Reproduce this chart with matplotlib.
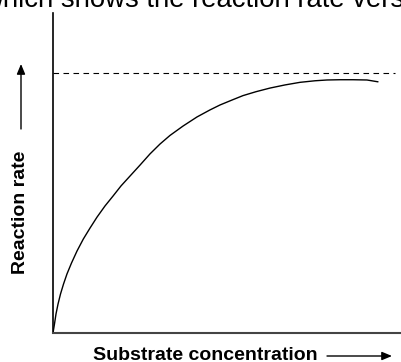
import matplotlib
matplotlib.use("Agg")
import matplotlib.pyplot as plt

plt.rcParams["font.family"] = ["Liberation Sans", "DejaVu Sans"]

# substrate concentration (arbitrary units) and measured reaction rate
substrate = [0.0, 0.043, 0.086, 0.144, 0.216, 0.302, 0.402, 0.532, 0.690, 0.871,
             1.063, 1.264, 1.494, 1.724, 1.954, 2.213, 2.500, 2.787, 3.075, 3.362,
             3.736, 4.138, 4.511, 4.799, 5.144, 5.460, 5.833, 6.236, 6.667, 7.098,
             7.529, 7.874, 8.247, 8.621, 9.023, 9.339]
rate = [0.0, 0.035, 0.073, 0.111, 0.150, 0.188, 0.227, 0.269, 0.315, 0.361,
        0.403, 0.445, 0.488, 0.526, 0.565, 0.603, 0.645, 0.688, 0.726, 0.759,
        0.795, 0.830, 0.857, 0.876, 0.895, 0.912, 0.927, 0.941, 0.953, 0.963,
        0.969, 0.972, 0.973, 0.973, 0.972, 0.965]
vmax = 1.0
vmax_end = 9.83

W, H = 401, 362
fig = plt.figure(figsize=(W / 100, H / 100), dpi=100)

left, bottom, top = 53, 333, 13
ax = fig.add_axes([left / W, (H - bottom) / H, (W - left) / W, (bottom - top) / H])
ax.set_xlim(0, 10)
ax.set_ylim(0, 320 / 260.3)

ax.plot(substrate, rate, color="black", lw=1.0, solid_joinstyle="round",
        solid_capstyle="round")
ax.plot([0, vmax_end], [vmax, vmax], color="black", lw=0.8, dashes=(5, 4))

for side in ("top", "right"):
    ax.spines[side].set_visible(False)
ax.spines["left"].set_color("black")
ax.spines["left"].set_linewidth(1.2)
ax.spines["bottom"].set_color("#444444")
ax.spines["bottom"].set_linewidth(1.5)
ax.set_xticks([])
ax.set_yticks([])

# tail of the sentence above the figure, clipped by the top edge
fig.text(-17 / W, 1 - 7 / H, "which shows the reaction rate versus", fontsize=19.8,
         ha="left", va="baseline", color="black")

fig.text(21 / W, 1 - 212 / H, "Reaction rate", rotation=90, fontsize=14,
         fontweight="bold", ha="center", va="center")
fig.text(205.5 / W, 1 - 360.5 / H, "Substrate concentration", fontsize=14,
         fontweight="bold", ha="center", va="baseline")

arrow = dict(arrowstyle="-|>,head_length=0.6,head_width=0.25", color="black", lw=1.0,
             shrinkA=0, shrinkB=0)
fig.add_artist(plt.Annotation("", xy=(21 / W, 1 - 64 / H), xytext=(21 / W, 1 - 129 / H),
                              xycoords="figure fraction", textcoords="figure fraction",
                              arrowprops=arrow))
fig.add_artist(plt.Annotation("", xy=(392 / W, 1 - 356 / H), xytext=(327 / W, 1 - 356 / H),
                              xycoords="figure fraction", textcoords="figure fraction",
                              arrowprops=arrow))

fig.savefig("out.png", dpi=100)
